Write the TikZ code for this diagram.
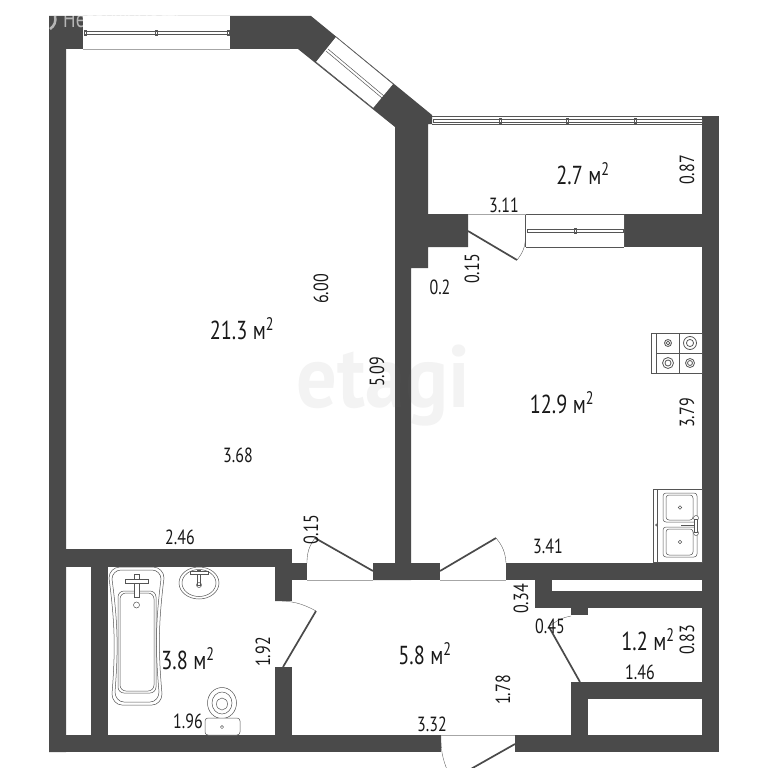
\documentclass[tikz,border=0pt]{standalone}
\usepackage{fontspec}
\setmainfont[FakeStretch=0.78]{PT Sans}
\usepackage{xcolor}
\usetikzlibrary{
    arrows.meta,
    calc,
    shapes.geometric
}
\definecolor{wallgrey}{HTML}{4A4A4A}
\definecolor{thingrey}{HTML}{555555}
\tikzset{%
   wall/.style={
      fill=wallgrey,
      draw=none
   },
   leaf/.style={
      draw=wallgrey,
      line width=1.7pt
   },
   swing/.style={
      draw=thingrey,
      line width=.35pt
   },
   pane/.style={
      draw=thingrey,
      line width=.5pt
   },
   sill/.style={
      draw=black!35,
      line width=.3pt
   },
   fixture/.style={
      draw=thingrey,
      line width=.5pt
   },
   dim/.style={
      inner sep=0pt,
      font=\fontsize{20.5}{20.5}\selectfont,
      text=black!90
   },
   vdim/.style={
      dim,
      rotate=90
   },
   area/.style={
      inner sep=0pt,
      font=\fontsize{26}{26}\selectfont,
      text=black!90
   },
}
\newcommand\sqm[1]{#1 м\textsuperscript{2}}
\newcommand\wallrect[4]{\fill[wall] (#1,#2) rectangle (#3,#4);}

\begin{document}
\begin{tikzpicture}[x=1pt, y=-1pt]
      \useasboundingbox (0,0) rectangle (768,768);
      \clip (0,0) rectangle (768,768);
      \fill[white] (0,0) rectangle (768,768);
      % walls
      \fill[wall] (49,16) -- (311,16) -- (432,115) -- (432,124) -- (428,124) -- (428,214) -- (468,214) -- (468,247) -- (428,247)
         -- (428,268) -- (411,268) -- (411,580) -- (373,580) -- (373,563) -- (395,563)
         -- (395,127) -- (298,49) -- (66,49) -- (66,752) -- (49,752) -- cycle;
      \foreach \xa/\ya/\xb/\yb in {
         49/549/292/567, 292/563/307/580, 275/549/292/601, 275/667/292/735,
         91/567/108/735, 49/735/441/752, 515/735/719/752, 373/563/440/580,
         506/563/719/580, 535/580/552/608, 552/591/702/608, 571/608/588/615,
         571/682/702/699, 571/682/588/735, 702/116/719/752, 624/214/702/247}{
         \wallrect{\xa}{\ya}{\xb}{\yb}
      }
      % windows
      \fill[white] (83,16) rectangle (230,49);
      \draw[sill] (83,49) -- (230,49);
      \draw[pane] (84,31) rectangle (229,34);
      \foreach \x in {85,156,228}{
         \draw[pane] (\x-1,30) rectangle (\x+1,35);
      }
      \fill[white] (336,37) -- (393,84) -- (373,108) -- (316,62) -- cycle;
      \draw[pane] (336,37) -- (393,84) (373,108) -- (316,62);
      \draw[pane] (328,49) -- (384,96) (326,51) -- (382,98);
      \draw[pane] (432,116) -- (702,116) (432,124) -- (702,124);
      \draw[pane] (433,119) rectangle (702,122);
      \foreach \x in {500,567,635}{
         \draw[pane] (\x-1,118) rectangle (\x+1,123);
      }
      \draw[pane] (525.5,214) -- (624,214) (525.5,247) -- (624,247) (525.5,214) -- (525.5,247) (624,214) -- (624,247);
      \draw[pane] (527,229) rectangle (623,232);
      \draw[pane] (574,228) rectangle (576,233);
      % doors
      \coordinate (balconyhinge) at (468,231);
      \coordinate (balconytip) at (517,260);
      \draw[leaf] (balconyhinge) -- (balconytip);
      \draw[swing] (balconytip) to[bend right=18] (525.5,238);
      \coordinate (roomhinge) at (373,571);
      \coordinate (roomtip) at (315,538);
      \draw[leaf] (roomhinge) -- (roomtip);
      \draw[swing] (roomtip) to[bend right=18] (307,563);
      \coordinate (kitchenhinge) at (440,571);
      \coordinate (kitchentip) at (496,538);
      \draw[leaf] (kitchenhinge) -- (kitchentip);
      \draw[swing] (kitchentip) to[bend left=18] (506,563);
      \coordinate (bathhinge) at (283,667);
      \coordinate (bathtip) at (316,611);
      \draw[leaf] (bathhinge) -- (bathtip);
      \draw[swing] (bathtip) to[bend right=15] (275,601);
      \coordinate (pantryhinge) at (580,682);
      \coordinate (pantrytip) at (549,627);
      \draw[leaf] (pantryhinge) -- (pantrytip);
      \draw[swing] (pantrytip) to[bend left=15] (571,616);
      \coordinate (entryhinge) at (515,744);
      \coordinate (entrytip) at (462,774);
      \draw[leaf] (entryhinge) -- (entrytip);
      \draw[swing] (441,735) to[bend right=12] (448,772);
      \draw[sill] (307,580) -- (373,580) (440,580) -- (506,580) (441,735) -- (515,735) (468,214) -- (525.5,214);
      % bath
      \draw[fixture] (109,578) to[bend left=6] (112,694) to[out=-90, in=180] (122,705) -- (152,705)
         to[out=0, in=-90] (162,694) to[bend left=6] (164,578) to[out=90, in=0] (153,567) -- (120,567)
         to[out=180, in=90] cycle;
      \draw[fixture] (112,579) to[bend left=6] (115,692) to[out=-90, in=180] (124,702) -- (150,702)
         to[out=0, in=-90] (159,692) to[bend left=6] (161,579) to[out=90, in=0] (152,570) -- (121,570)
         to[out=180, in=90] cycle;
      \draw[fixture, rounded corners=6pt] (118,591) rectangle (156,693);
      \draw[fixture, rounded corners=6pt] (120,593) rectangle (154,691);
      \draw[fixture, fill=white] (134,574) rectangle (139,597);
      \draw[fixture, fill=white] (125,579) rectangle (148,583);
      \draw[fixture] (136.5,605) circle (3);
      % basin
      \draw[fixture] (199,583) ellipse (20 and 16);
      \draw[fixture] (199,583) ellipse (17 and 13.5);
      \draw[fixture, fill=white] (197.5,570) rectangle (200.5,585);
      \draw[fixture, fill=white] (190,571) rectangle (208,574);
      \draw[fixture] (199,585) circle (2.5);
      % toilet
      \draw[fixture] (222,703) ellipse (14.5 and 15.5);
      \draw[fixture] (222,703) ellipse (10 and 11);
      \draw[fixture] (222,704) ellipse (5.5 and 6);
      \draw[fixture, fill=white, rounded corners=3pt] (205,718) rectangle (240,735);
      \draw[fixture] (222,727) circle (1.6);
      % hob
      \draw[fixture, line width=.7pt] (651.5,333) rectangle (702,373);
      \draw[fixture, line width=.7pt] (656,333) -- (656,373) (679,333) -- (679,373) (656,353) -- (702,353);
      \foreach \x/\y/\r in {668/343/3.5, 690/343/6.5, 668/363/5.5, 690/363/4.5}{
         \draw[fixture, line width=.8pt] (\x,\y) circle (\r);
         \draw[fixture, line width=.8pt] (\x,\y) circle (\r*.55);
      }
      % kitchen sink
      \draw[fixture] (653.5,489) rectangle (702,562);
      \draw[fixture] (657,489) -- (657,562);
      \draw[fixture] (656.5,525) circle (1);
      \foreach \ya/\yb in {493/522, 527/557}{
         \draw[fixture, rounded corners=3pt] (663,\ya) rectangle (697,\yb);
         \draw[fixture, rounded corners=3pt] (666,\ya+2) rectangle (693,\yb-2);
         \draw[fixture] (680,{(\ya+\yb)/2}) circle (1.8);
      }
      \draw[fixture] (681,525) -- (696,525);
      \draw[fixture, fill=white] (696,518) circle (2.5) (696,533) circle (2.5);
      \draw[fixture, fill=white] (694.5,519) rectangle (697.5,532);
      % marks
      \node[text=black!60, text opacity=.08, inner sep=0pt, anchor=base, xscale=1.17, font=\fontsize{88}{88}\selectfont\bfseries] (etagi) at (383,407) {etagi};
      \node[text=white, text opacity=.6, inner sep=0pt, anchor=base west, font=\fontsize{24}{24}\selectfont] (estate) at (63,28) {Недвижимость};
      \draw[white, opacity=.6, line width=2.5pt] (50,29) to[bend right=35] (55,16);
      % labels
      \node[area] (livingarea) at (242,329) {\sqm{21.3}};
      \node[vdim] (livinglong) at (321,289) {6.00};
      \node[vdim] (livingright) at (377,372) {5.09};
      \node[dim] (livingwide) at (238,455) {3.68};
      \node[dim] (livinglow) at (180,537) {2.46};
      \node[vdim] (roomdoorw) at (311,530) {0.15};
      \node[area] (balconyarea) at (583,174) {\sqm{2.7}};
      \node[vdim] (balconyh) at (687,170) {0.87};
      \node[dim] (balconyw) at (504,205) {3.11};
      \node[vdim] (balconydoorw) at (472,269) {0.15};
      \node[dim] (nichew) at (440,287) {0.2};
      \node[area] (kitchenarea) at (562,403) {\sqm{12.9}};
      \node[vdim] (kitchenh) at (687,413) {3.79};
      \node[dim] (kitchenw) at (548,546) {3.41};
      \node[vdim] (nicheh) at (521,599) {0.34};
      \node[dim] (pantrydoorw) at (550,626) {0.45};
      \node[area] (pantryarea) at (648,640) {\sqm{1.2}};
      \node[vdim] (pantryh) at (687,640) {0.83};
      \node[dim] (pantryw) at (640,672) {1.46};
      \node[area] (hallarea) at (425,654) {\sqm{5.8}};
      \node[vdim] (hallh) at (503,690) {1.78};
      \node[dim] (hallw) at (432,724) {3.32};
      \node[area] (batharea) at (188,659) {\sqm{3.8}};
      \node[vdim] (bathh) at (263,652) {1.92};
      \node[dim] (bathw) at (188,721) {1.96};
   \end{tikzpicture}
\end{document}
